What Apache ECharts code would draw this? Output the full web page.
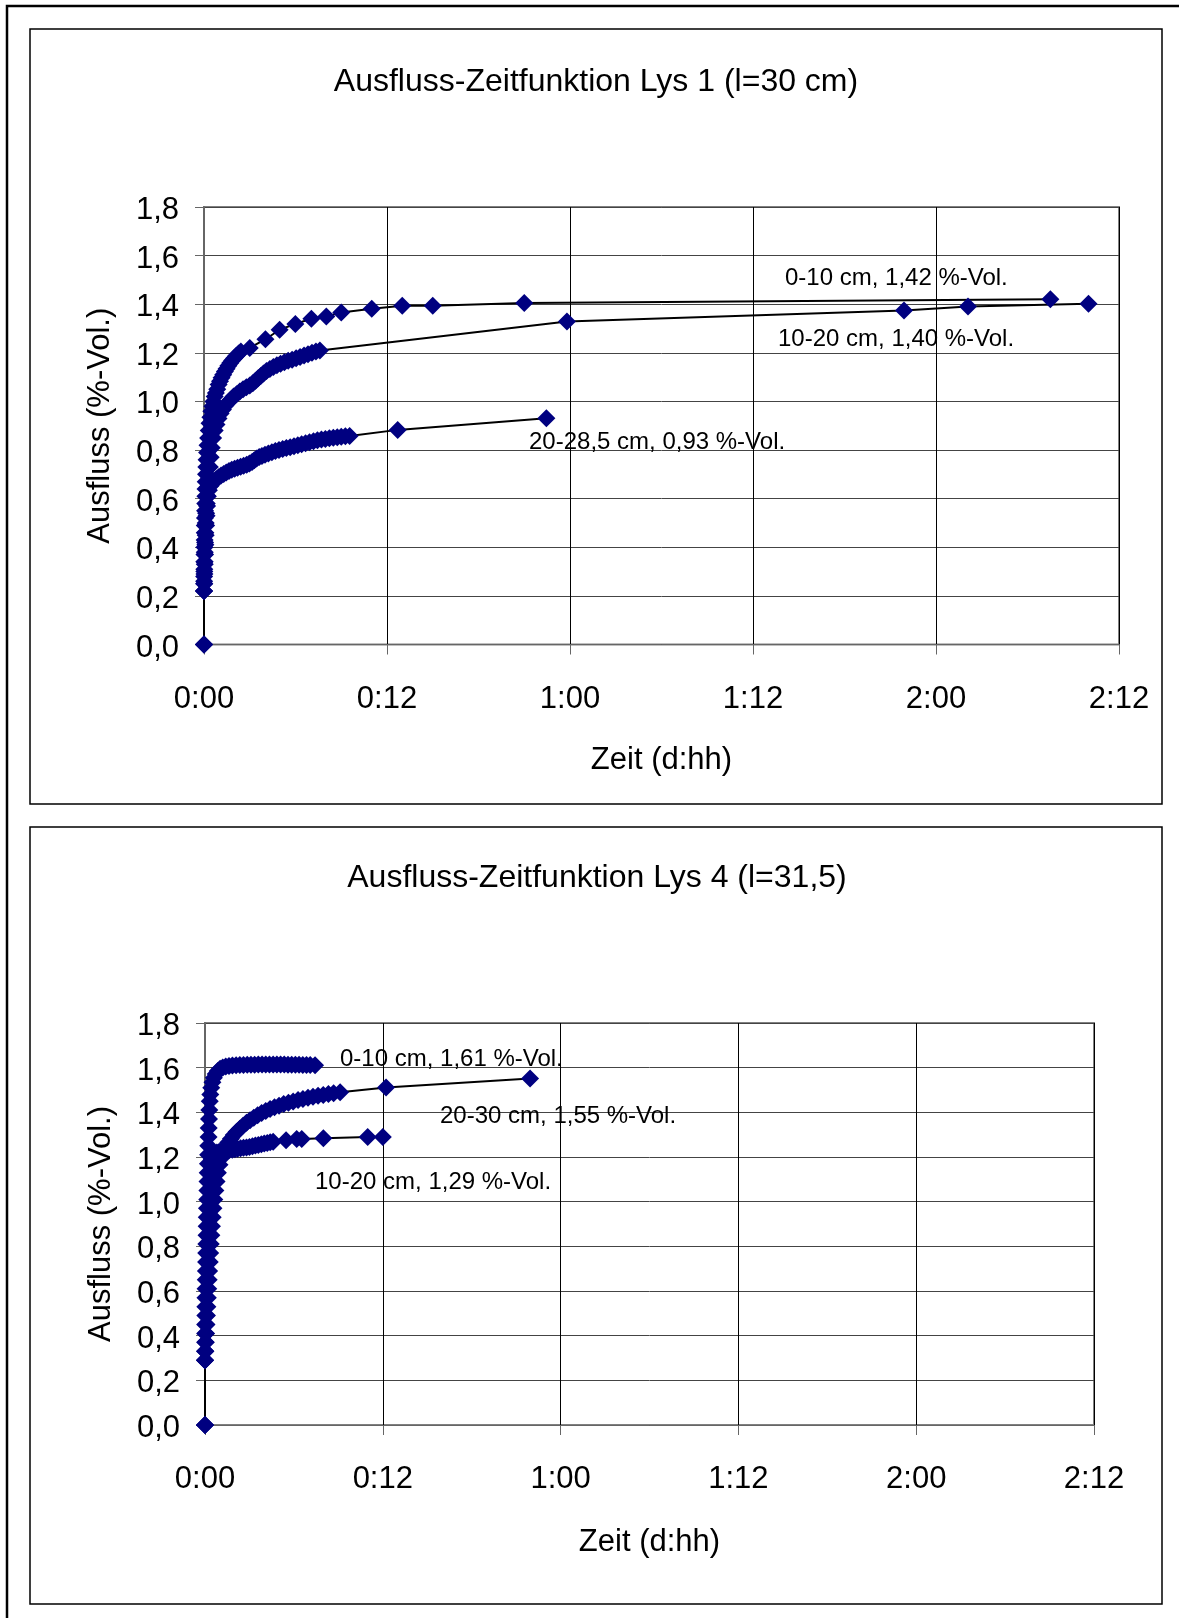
<!DOCTYPE html>
<html>
<head>
<meta charset="utf-8">
<script src="https://cdn.jsdelivr.net/npm/echarts/dist/echarts.min.js"></script>
<style>
html,body{margin:0;padding:0;background:#fff;}
#c{width:1179px;height:1618px;}
</style>
</head>
<body>
<div id="c"></div>
<script>
// ---- tick labels ----
const xTickLabels = ['0:00', '0:12', '1:00', '1:12', '2:00', '2:12'];
const yTickLabels = ['0,0', '0,2', '0,4', '0,6', '0,8', '1,0', '1,2', '1,4', '1,6', '1,8'];

// ---- Lys 1 (hours, %-Vol.) ----
const lys1_0_10 = [
  [0,0],[0,0.22],[0.01,0.25],[0.01,0.28],[0.02,0.31],[0.02,0.34],[0.03,0.37],[0.03,0.40],[0.04,0.43],[0.05,0.46],
  [0.05,0.49],[0.06,0.52],[0.07,0.55],[0.08,0.58],[0.09,0.61],[0.10,0.64],[0.11,0.67],[0.13,0.70],[0.15,0.73],
  [0.17,0.76],[0.20,0.79],[0.23,0.82],[0.27,0.85],[0.31,0.88],[0.36,0.91],[0.42,0.935],[0.48,0.96],[0.55,0.98],
  [0.62,1.0],[0.70,1.02],[0.78,1.035],[0.87,1.05],[0.96,1.07],[1.05,1.083],[1.15,1.097],[1.26,1.11],[1.37,1.123],
  [1.48,1.135],[1.60,1.147],[1.72,1.158],[1.85,1.168],[1.98,1.178],[2.12,1.188],[2.27,1.197],[2.42,1.205],
  [3.0,1.22],[4.03,1.256],[4.96,1.295],[5.99,1.319],[7.04,1.34],[8.02,1.35],[9.0,1.366],[11.0,1.381],
  [13.0,1.394],[15.0,1.394],[21.0,1.405],[55.5,1.42]
];
const lys1_10_20 = [
  [0,0],[0,0.22],[0.02,0.25],[0.03,0.29],[0.05,0.33],[0.07,0.37],[0.09,0.41],[0.11,0.45],[0.14,0.49],[0.17,0.53],
  [0.20,0.57],[0.24,0.61],[0.28,0.65],[0.33,0.69],[0.38,0.73],[0.44,0.77],[0.51,0.81],[0.60,0.85],[0.70,0.88],
  [0.82,0.905],[0.95,0.93],[1.09,0.95],[1.24,0.967],[1.40,0.983],[1.57,0.995],[1.75,1.007],[1.94,1.02],[2.14,1.03],
  [2.35,1.041],[2.56,1.05],[2.78,1.058],[3.0,1.066],[3.2,1.075],[3.38,1.085],[3.55,1.095],[3.72,1.105],[3.9,1.115],
  [4.1,1.125],[4.32,1.134],[4.55,1.142],[4.78,1.149],[5.02,1.155],[5.27,1.161],[5.52,1.167],[5.78,1.172],
  [6.04,1.178],[6.3,1.183],[6.56,1.189],[6.82,1.194],[7.08,1.2],[7.34,1.205],[7.6,1.21],
  [23.8,1.329],[45.9,1.374],[50.1,1.391],[58.0,1.402]
];
const lys1_20_285 = [
  [0,0],[0,0.22],[0.01,0.26],[0.02,0.30],[0.04,0.34],[0.05,0.38],[0.07,0.42],[0.09,0.46],[0.11,0.50],[0.14,0.54],
  [0.18,0.58],[0.24,0.61],[0.32,0.635],[0.42,0.652],[0.54,0.663],[0.67,0.672],[0.81,0.68],[0.96,0.688],[1.12,0.695],
  [1.29,0.702],[1.46,0.708],[1.64,0.714],[1.82,0.719],[2.01,0.723],[2.2,0.727],[2.4,0.731],[2.6,0.735],[2.8,0.74],
  [2.98,0.745],[3.15,0.751],[3.3,0.758],[3.45,0.765],[3.62,0.771],[3.8,0.776],[4.0,0.781],[4.22,0.786],[4.45,0.791],
  [4.68,0.796],[4.92,0.8],[5.16,0.804],[5.4,0.808],[5.65,0.812],[5.9,0.816],[6.15,0.82],[6.4,0.824],[6.66,0.828],
  [6.92,0.832],[7.18,0.836],[7.44,0.84],[7.7,0.843],[7.96,0.846],[8.22,0.849],[8.48,0.851],[8.74,0.853],[9.0,0.855],
  [9.27,0.857],[9.55,0.858],
  [12.7,0.883],[22.45,0.931]
];

// ---- Lys 4 (hours, %-Vol.) ----
const lys4_0_10 = [
  [0,0],[0,0.29],[0.0,0.33],[0.01,0.37],[0.01,0.41],[0.01,0.45],[0.02,0.49],[0.02,0.53],[0.03,0.57],[0.04,0.61],
  [0.05,0.65],[0.06,0.69],[0.07,0.73],[0.08,0.77],[0.09,0.81],[0.10,0.85],[0.11,0.89],[0.12,0.93],[0.13,0.97],
  [0.15,1.01],[0.16,1.05],[0.17,1.09],[0.18,1.13],[0.2,1.17],[0.21,1.21],[0.22,1.25],[0.24,1.29],[0.25,1.33],
  [0.27,1.37],[0.29,1.41],[0.32,1.45],[0.36,1.48],[0.42,1.51],[0.5,1.535],[0.6,1.555],[0.72,1.572],[0.86,1.585],
  [1.02,1.595],[1.2,1.601],[1.4,1.605],[1.62,1.608],[1.85,1.61],[2.1,1.611],[2.35,1.612],[2.6,1.612],[2.85,1.613],
  [3.1,1.613],[3.35,1.613],[3.6,1.614],[3.85,1.614],[4.1,1.614],[4.35,1.614],[4.6,1.614],[4.85,1.614],[5.1,1.614],
  [5.35,1.614],[5.6,1.613],[5.85,1.613],[6.1,1.613],[6.35,1.613],[6.6,1.612],[6.85,1.612],[7.1,1.612],[7.43,1.611]
];
const lys4_10_20 = [
  [0,0],[0,0.29],[0.02,0.33],[0.04,0.37],[0.05,0.41],[0.07,0.45],[0.09,0.49],[0.1,0.53],[0.12,0.57],[0.14,0.61],
  [0.16,0.65],[0.18,0.69],[0.2,0.73],[0.22,0.77],[0.24,0.81],[0.26,0.85],[0.28,0.89],[0.3,0.93],[0.31,0.97],
  [0.33,1.01],[0.34,1.05],[0.36,1.09],[0.38,1.13],[0.41,1.165],[0.46,1.19],[0.54,1.205],[0.66,1.215],[0.8,1.22],
  [0.96,1.224],[1.13,1.227],[1.3,1.229],[1.48,1.231],[1.66,1.232],[1.84,1.233],[2.02,1.235],[2.2,1.237],[2.4,1.239],
  [2.6,1.241],[2.8,1.243],[3.0,1.245],[3.2,1.248],[3.4,1.251],[3.6,1.254],[3.8,1.257],[4.0,1.26],[4.2,1.263],
  [4.4,1.266],[4.6,1.268],
  [5.47,1.275],[6.19,1.281],[6.53,1.281],[7.99,1.284],[10.98,1.29],[12.0,1.29]
];
const lys4_20_30 = [
  [0,0],[0,0.29],[0.02,0.33],[0.05,0.37],[0.07,0.41],[0.1,0.45],[0.13,0.49],[0.16,0.53],[0.19,0.57],[0.22,0.61],
  [0.25,0.65],[0.28,0.69],[0.32,0.73],[0.35,0.77],[0.39,0.81],[0.43,0.85],[0.47,0.89],[0.52,0.93],[0.57,0.97],
  [0.63,1.01],[0.7,1.05],[0.78,1.09],[0.87,1.13],[0.98,1.165],[1.1,1.195],[1.24,1.222],[1.4,1.245],[1.57,1.265],
  [1.75,1.282],[1.94,1.298],[2.14,1.313],[2.35,1.327],[2.57,1.34],[2.8,1.353],[3.04,1.365],[3.29,1.376],[3.55,1.387],
  [3.82,1.397],[4.1,1.406],[4.39,1.415],[4.69,1.423],[5.0,1.43],[5.31,1.437],[5.63,1.443],[5.95,1.449],[6.28,1.455],
  [6.61,1.46],[6.95,1.465],[7.29,1.47],[7.63,1.474],[7.98,1.478],[8.33,1.482],[8.68,1.486],[9.12,1.49],
  [12.22,1.511],[21.94,1.551]
];

const FONT = '"Liberation Sans", Arial, sans-serif';
const chart = echarts.init(document.getElementById('c'), null, {renderer: 'canvas'});

function xAx(gi) {
  return {
    type: 'value', gridIndex: gi, min: 0, max: 60, interval: 12,
    name: 'Zeit (d:hh)', nameLocation: 'middle', nameGap: gi === 0 ? 100 : 102,
    nameTextStyle: {fontFamily: FONT, fontSize: 31, color: '#000'},
    axisLine: {show: true, onZero: false, lineStyle: {color: '#666', width: 1}},
    axisTick: {show: true, inside: false, length: 10, lineStyle: {color: '#666', width: 1}},
    axisLabel: {fontFamily: FONT, fontSize: 31, color: '#000', margin: 39,
      formatter: v => xTickLabels[Math.round(v / 12)]},
    splitLine: {show: true, lineStyle: {color: '#000', width: 1}}
  };
}
function yAx(gi) {
  return {
    type: 'value', gridIndex: gi, min: 0, max: 1.8, interval: 0.2,
    name: 'Ausfluss (%-Vol.)', nameLocation: 'middle', nameGap: 88, nameRotate: 90,
    nameTextStyle: {fontFamily: FONT, fontSize: 31, color: '#000'},
    axisLine: {show: true, lineStyle: {color: '#666', width: 2}},
    axisTick: {show: true, inside: false, length: 9, lineStyle: {color: '#666', width: 1}},
    axisLabel: {fontFamily: FONT, fontSize: 31, color: '#000', margin: 25,
      formatter: v => '{v|' + yTickLabels[Math.round(v / 0.2)] + '}',
      rich: {v: {fontFamily: FONT, fontSize: 31, color: '#000', padding: [7, 0, 0, 0]}}},
    splitLine: {show: true, lineStyle: {color: '#444', width: 1}}
  };
}
function mk(name, data, gi) {
  return {
    type: 'line', name: name, xAxisIndex: gi, yAxisIndex: gi, data: data,
    symbol: 'diamond', symbolSize: 18, showSymbol: true, showAllSymbol: true,
    itemStyle: {color: '#000080'}, lineStyle: {color: '#000', width: 2},
    silent: true, animation: false
  };
}
function label(text, x, y) {
  return {type: 'text', x: x, y: y, z: 100,
    style: {text: text, fontFamily: FONT, fontSize: 24, fill: '#000', textAlign: 'left', textVerticalAlign: 'middle'}};
}

chart.setOption({
  animation: false,
  backgroundColor: '#fff',
  grid: [
    {left: 204, top: 207, width: 915, height: 437.5, show: true, borderColor: '#808080', borderWidth: 2},
    {left: 205, top: 1023, width: 889, height: 402, show: true, borderColor: '#808080', borderWidth: 2}
  ],
  xAxis: [xAx(0), xAx(1)],
  yAxis: [yAx(0), yAx(1)],
  series: [
    mk('0-10 cm', lys1_0_10, 0),
    mk('10-20 cm', lys1_10_20, 0),
    mk('20-28,5 cm', lys1_20_285, 0),
    mk('0-10 cm', lys4_0_10, 1),
    mk('10-20 cm', lys4_10_20, 1),
    mk('20-30 cm', lys4_20_30, 1)
  ],
  graphic: [
    {type: 'rect', shape: {x: 7, y: 6, width: 1250, height: 1700}, style: {fill: null, stroke: '#000', lineWidth: 2.5}, z: 100},
    {type: 'rect', shape: {x: 30, y: 29, width: 1132, height: 775}, style: {fill: null, stroke: '#000', lineWidth: 1.5}, z: 100},
    {type: 'rect', shape: {x: 30, y: 827, width: 1132, height: 777}, style: {fill: null, stroke: '#000', lineWidth: 1.5}, z: 100},
    {type: 'text', x: 596, y: 82, z: 100, style: {text: 'Ausfluss-Zeitfunktion Lys 1 (l=30 cm)', fontFamily: FONT, fontSize: 32, fill: '#000', textAlign: 'center', textVerticalAlign: 'middle'}},
    {type: 'text', x: 597, y: 878, z: 100, style: {text: 'Ausfluss-Zeitfunktion Lys 4 (l=31,5)', fontFamily: FONT, fontSize: 32, fill: '#000', textAlign: 'center', textVerticalAlign: 'middle'}},
    label('0-10 cm, 1,42 %-Vol.', 785, 278),
    label('10-20 cm, 1,40 %-Vol.', 778, 339),
    label('20-28,5 cm, 0,93 %-Vol.', 529, 442),
    label('0-10 cm, 1,61 %-Vol.', 340, 1059),
    label('20-30 cm, 1,55 %-Vol.', 440, 1116),
    label('10-20 cm, 1,29 %-Vol.', 315, 1182)
  ]
});
</script>
</body>
</html>
